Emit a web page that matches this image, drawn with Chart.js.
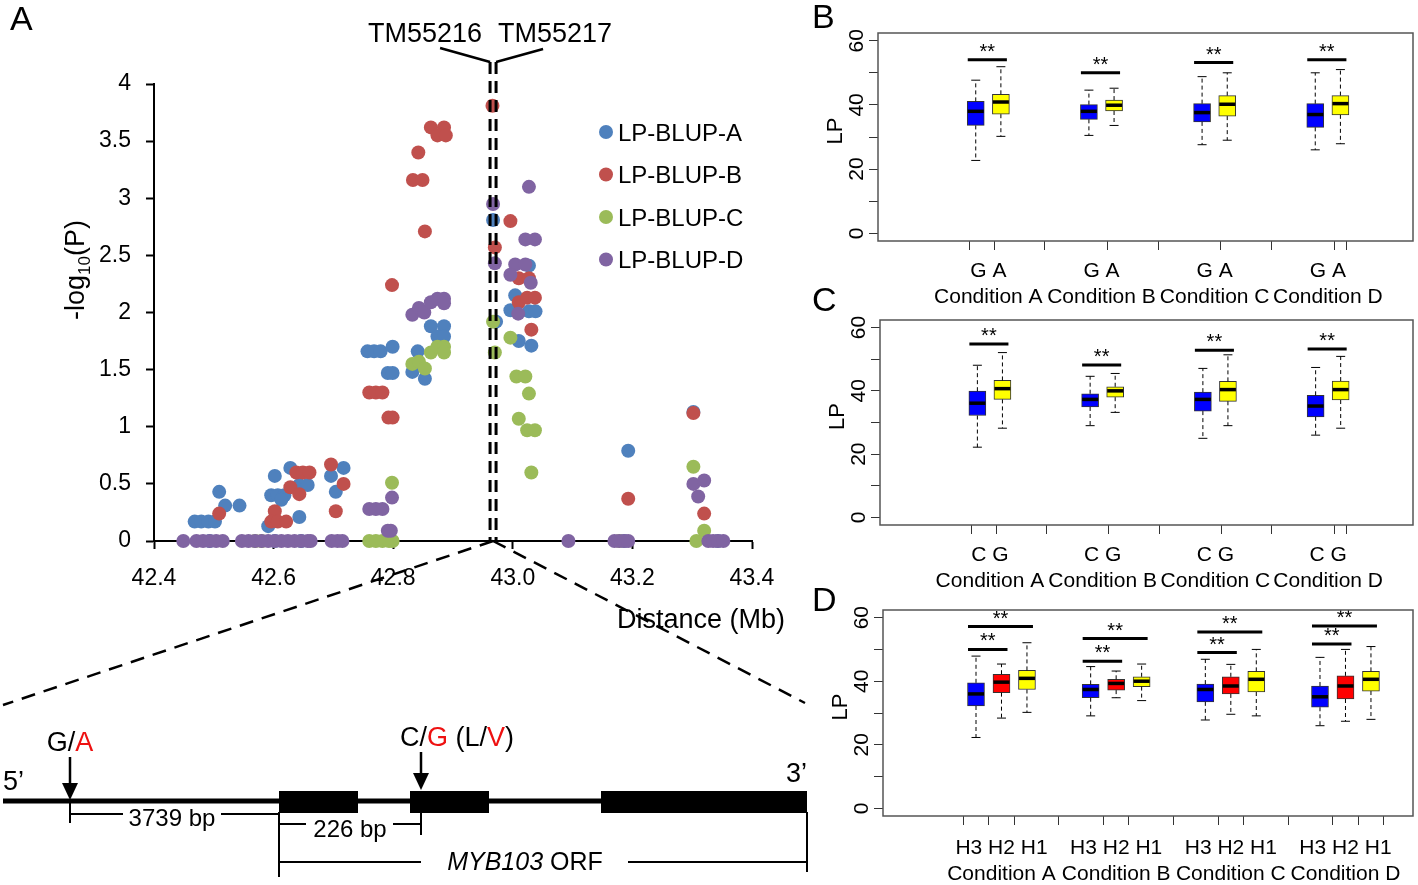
<!DOCTYPE html>
<html>
<head>
<meta charset="utf-8">
<title>MYB103 association and LP box plots</title>
<script src="https://cdn.jsdelivr.net/npm/chart.js@4.4.0/dist/chart.umd.min.js"></script>
<style>
  html, body { margin: 0; padding: 0; background: #fff; }
  #fig { position: relative; width: 1418px; height: 885px; overflow: hidden; }
  #fig canvas { position: absolute; }
  #overlay { position: absolute; left: 0; top: 0; pointer-events: none; }
</style>
</head>
<body>
<div id="fig">
  <canvas id="chart-a" width="820" height="720" style="left:0px;top:0px"></canvas>
  <canvas id="chart-b" width="618" height="320" style="left:800px;top:0px"></canvas>
  <canvas id="chart-c" width="618" height="320" style="left:800px;top:290px"></canvas>
  <canvas id="chart-d" width="618" height="315" style="left:800px;top:585px"></canvas>
  <svg id="overlay" width="1418" height="885"></svg>
</div>
<script>
'use strict';
/* ── panel A: association scan, [distance Mb, -log10(P)] ─────────────────── */
const LP_BLUP_A = [
  [42.468,0.17],[42.479,0.17],[42.491,0.17],[42.502,0.17],[42.509,0.43],[42.519,0.31],[42.543,0.31],
  [42.591,0.13],[42.596,0.40],[42.607,0.40],[42.618,0.40],[42.602,0.57],[42.613,0.36],[42.628,0.64],
  [42.643,0.21],[42.643,0.49],[42.657,0.49],[42.696,0.57],[42.704,0.43],[42.717,0.64],
  [42.757,1.66],[42.768,1.66],[42.779,1.66],[42.799,1.70],[42.791,1.47],[42.799,1.47],
  [42.832,1.48],[42.841,1.66],[42.853,1.42],[42.863,1.88],[42.885,1.88],[42.874,1.79],[42.885,1.79],
  [42.967,2.81],[42.972,1.92],[43.027,2.41],[43.004,2.15],[42.996,2.02],[43.027,2.01],[43.038,2.01],
  [43.010,1.75],[43.031,1.71],[43.193,0.79],[43.302,1.13],
  [42.493,0],[42.602,0],[42.646,0],[43.186,0],[43.343,0]
];
const LP_BLUP_B = [
  [42.509,0.24],[42.602,0.26],[42.596,0.17],[42.607,0.17],[42.621,0.17],[42.628,0.47],[42.643,0.41],
  [42.638,0.60],[42.649,0.60],[42.660,0.60],[42.696,0.67],[42.704,0.26],[42.717,0.50],
  [42.760,1.30],[42.771,1.30],[42.782,1.30],[42.792,1.08],[42.799,1.08],[42.798,2.24],
  [42.833,3.16],[42.849,3.16],[42.842,3.40],[42.853,2.71],[42.863,3.62],[42.885,3.62],[42.874,3.55],[42.888,3.55],
  [42.966,3.81],[42.970,2.57],[42.996,2.80],[43.010,2.30],[43.027,2.30],[43.010,2.09],[43.024,2.13],[43.037,2.13],
  [43.031,1.85],[43.193,0.37],[43.302,1.12],[43.320,0.24]
];
const LP_BLUP_C = [
  [42.760,0],[42.771,0],[42.782,0],[42.793,0],[42.799,0],[42.798,0.51],
  [42.832,1.55],[42.843,1.57],[42.853,1.51],[42.863,1.65],[42.874,1.70],[42.885,1.70],[42.885,1.65],
  [42.967,1.92],[42.970,1.65],[42.996,1.78],[43.006,1.44],[43.021,1.44],[43.027,1.29],[43.010,1.07],
  [43.024,0.97],[43.037,0.97],[43.031,0.60],[43.302,0.65],[43.320,0.09],[43.307,0],
  [42.569,0],[42.580,0],[43.178,0]
];
const LP_BLUP_D = [
  [42.449,0],[42.471,0],[42.482,0],[42.493,0],[42.504,0],[42.515,0],
  [42.547,0],[42.558,0],[42.569,0],[42.580,0],[42.591,0],[42.602,0],[42.613,0],[42.624,0],
  [42.635,0],[42.646,0],[42.657,0],[42.662,0],[42.697,0],[42.707,0],[42.715,0],
  [42.760,0.28],[42.771,0.28],[42.782,0.28],[42.798,0.38],[42.791,0.09],[42.796,0.09],
  [42.832,1.98],[42.843,2.04],[42.852,2.00],[42.863,2.09],[42.874,2.12],[42.885,2.12],[42.885,2.08],
  [42.967,2.95],[42.970,2.43],[43.027,3.10],[43.021,2.64],[43.037,2.64],[43.004,2.42],[43.021,2.42],
  [42.996,2.33],[43.030,2.26],[43.009,1.99],
  [43.093,0],[43.170,0],[43.178,0],[43.186,0],[43.193,0],
  [43.302,0.50],[43.320,0.53],[43.310,0.39],
  [43.327,0],[43.335,0],[43.343,0],[43.352,0]
];
const SERIES_NAMES  = ['LP-BLUP-A', 'LP-BLUP-B', 'LP-BLUP-C', 'LP-BLUP-D'];
const SERIES_POINTS = [LP_BLUP_A, LP_BLUP_B, LP_BLUP_C, LP_BLUP_D];
const SERIES_COLORS = ['#4F81BD', '#C0504D', '#9BBB59', '#8064A2'];
const X_TICKS = [42.4, 42.6, 42.8, 43.0, 43.2, 43.4];
const Y_TICKS = [0, 0.5, 1, 1.5, 2, 2.5, 3, 3.5, 4];
const LOCUS_MB = 42.967;
const MARKERS = ['TM55216', 'TM55217'];

/* ── panels B-D: LP box plots, [lower whisker, Q1, median, Q3, upper whisker] ── */
const CONDITIONS = ['Condition A', 'Condition B', 'Condition C', 'Condition D'];
const B_ALLELES = ['G', 'A'];
const B_STATS = [
  [22.7, 33.6, 38.0, 41.1, 47.7], [30.2, 37.1, 40.9, 43.3, 51.9],
  [30.5, 35.5, 38.0, 40.1, 44.6], [33.6, 38.1, 39.9, 41.5, 45.2],
  [27.6, 34.7, 37.6, 40.4, 48.8], [29.0, 36.5, 40.2, 42.9, 50.0],
  [26.0, 33.0, 37.0, 40.4, 50.0], [27.9, 36.9, 40.4, 42.9, 51.0]
];
const B_SIG_Y = [54.1, 50.0, 53.2, 54.1];

const C_ALLELES = ['C', 'G'];
const C_STATS = [
  [22.2, 32.2, 36.1, 39.9, 48.1], [28.2, 37.3, 40.7, 43.3, 52.1],
  [29.0, 34.9, 37.3, 39.1, 44.6], [33.2, 38.0, 40.0, 41.3, 45.5],
  [25.0, 33.6, 37.3, 39.6, 47.1], [29.0, 36.7, 40.4, 43.0, 51.4],
  [26.0, 31.8, 35.2, 38.6, 47.4], [28.2, 37.1, 40.4, 43.1, 50.9]
];
const C_SIG_Y = [54.8, 48.2, 52.8, 53.2];

const D_HAPLOTYPES = ['H3', 'H2', 'H1'];
const D_STATS = [
  [22.3, 32.2, 36.0, 39.5, 47.9], [28.4, 36.4, 39.7, 42.2, 45.4], [30.2, 37.4, 40.9, 43.4, 52.1],
  [29.1, 34.8, 37.4, 39.0, 44.6], [34.8, 37.2, 39.3, 40.6, 43.2], [33.9, 38.3, 40.0, 41.4, 45.4],
  [27.8, 33.5, 37.4, 39.1, 46.9], [29.6, 36.0, 38.5, 41.4, 45.3], [29.1, 36.6, 40.6, 43.1, 50.0],
  [26.0, 31.8, 35.1, 38.5, 47.5], [27.4, 34.4, 38.5, 41.7, 50.0], [28.0, 36.9, 40.6, 43.1, 50.9]
];
const D_SIG_H3_H2 = [50.0, 46.3, 49.0, 51.7];
const D_SIG_H3_H1 = [57.2, 53.4, 55.5, 57.4];

const BOX_TICKS = [0, 10, 20, 30, 40, 50, 60];
const BOX_LABELS = [0, 20, 40, 60];

const FONT = '"Liberation Sans", Arial, Helvetica, sans-serif';
Chart.defaults.font.family = FONT;
Chart.defaults.color = '#000';

/* ─── Panel A ─────────────────────────────────────────────────────────── */
const locusPlugin = {
  id: 'locus',
  afterDatasetsDraw(chart) {
    const { ctx, chartArea: a, scales: { x } } = chart;
    const px = x.getPixelForValue(LOCUS_MB);
    ctx.save();
    ctx.strokeStyle = '#000';
    // bracket under the marker names
    ctx.lineWidth = 2.5;
    ctx.beginPath();
    ctx.moveTo(px - 53, 48); ctx.lineTo(px - 3, 62);
    ctx.moveTo(px + 50, 49); ctx.lineTo(px + 3, 62);
    ctx.stroke();
    // double dashed locus line
    ctx.lineWidth = 3;
    ctx.setLineDash([12, 7]);
    [-3, 3].forEach(d => {
      ctx.beginPath(); ctx.moveTo(px + d, 62); ctx.lineTo(px + d, a.bottom); ctx.stroke();
    });
    // zoom-in lines to the gene model
    ctx.lineWidth = 2.5;
    ctx.setLineDash([14, 9]);
    ctx.beginPath();
    ctx.moveTo(px, a.bottom); ctx.lineTo(3, 705);
    ctx.moveTo(px, a.bottom); ctx.lineTo(805, 703);
    ctx.stroke();
    ctx.restore();
  }
};

const axisA = (extra) => Object.assign({
  type: 'linear',
  grid:   { drawOnChartArea: false, tickLength: 8, color: '#000', tickColor: '#000', tickWidth: 2 },
  border: { color: '#000', width: 2 },
}, extra);

new Chart(document.getElementById('chart-a'), {
  type: 'scatter',
  data: {
    datasets: SERIES_POINTS.map((pts, i) => ({
      label: SERIES_NAMES[i],
      data: pts.map(p => ({ x: p[0], y: p[1] })),
      backgroundColor: SERIES_COLORS[i],
      pointRadius: 7, pointHoverRadius: 7, pointBorderWidth: 0,
      order: SERIES_POINTS.length - i,
      clip: false,
    })),
  },
  options: {
    responsive: false, animation: false, events: [],
    layout: { padding: { top: 84, right: 68, bottom: 109, left: 0 } },
    plugins: { legend: { display: false }, tooltip: { enabled: false } },
    scales: {
      x: axisA({
        min: 42.4, max: 43.4,
        afterBuildTicks: s => { s.ticks = X_TICKS.map(v => ({ value: v })); },
        afterFit: s => { s.height = 70; },
        ticks: { callback: v => v.toFixed(1), font: { size: 23 }, padding: 16, maxRotation: 0, autoSkip: false },
      }),
      y: axisA({
        min: 0, max: 4,
        afterBuildTicks: s => { s.ticks = Y_TICKS.map(v => ({ value: v })); },
        afterFit: s => { s.width = 154; },
        ticks: { callback: v => String(v), font: { size: 23 }, padding: 15, autoSkip: false },
      }),
    },
  },
  plugins: [locusPlugin],
});

/* ─── Panels B-D ──────────────────────────────────────────────────────── */
function boxPlugin(stats, pos, sigs) {
  return {
    id: 'boxes',
    afterDatasetsDraw(chart) {
      const { ctx, chartArea: a, scales: { x, y } } = chart;
      ctx.save();
      ctx.strokeStyle = '#000';
      stats.forEach((s, i) => {
        const px = x.getPixelForValue(pos[i]);
        const [lo, q1, med, q3, hi] = s.map(v => y.getPixelForValue(v));
        ctx.lineWidth = 1;
        ctx.setLineDash([4, 3]);
        ctx.beginPath();
        ctx.moveTo(px, q3); ctx.lineTo(px, hi);
        ctx.moveTo(px, q1); ctx.lineTo(px, lo);
        ctx.stroke();
        ctx.setLineDash([]);
        ctx.beginPath();
        ctx.moveTo(px - 4.5, hi); ctx.lineTo(px + 4.5, hi);
        ctx.moveTo(px - 4.5, lo); ctx.lineTo(px + 4.5, lo);
        ctx.stroke();
        ctx.lineWidth = 3.5;
        ctx.beginPath(); ctx.moveTo(px - 8, med); ctx.lineTo(px + 8, med); ctx.stroke();
      });

      // significance bars
      ctx.lineWidth = 3;
      ctx.fillStyle = '#000';
      ctx.font = '20px ' + FONT;
      ctx.textAlign = 'center';
      ctx.textBaseline = 'alphabetic';
      sigs.forEach(sg => {
        const x0 = x.getPixelForValue(pos[sg.from]) - 8;
        const x1 = x.getPixelForValue(pos[sg.to]) + 6;
        const yy = y.getPixelForValue(sg.y);
        ctx.beginPath(); ctx.moveTo(x0, yy); ctx.lineTo(x1, yy); ctx.stroke();
        ctx.fillText('**', (x0 + x1) / 2, yy - 2);
      });

      // frame
      ctx.lineWidth = 1.5;
      ctx.strokeStyle = '#555';
      ctx.strokeRect(a.left, a.top, a.width, a.height);

      // R-style y labels, parallel to the axis
      ctx.textBaseline = 'middle';
      ctx.font = '21px ' + FONT;
      BOX_LABELS.forEach(v => {
        ctx.save();
        ctx.translate(a.left - 21, y.getPixelForValue(v));
        ctx.rotate(-Math.PI / 2);
        ctx.fillText(String(v), 0, 0);
        ctx.restore();
      });
      ctx.font = '22px ' + FONT;
      ctx.save();
      ctx.translate(a.left - 42, (y.getPixelForValue(0) + y.getPixelForValue(60)) / 2 - 6);
      ctx.rotate(-Math.PI / 2);
      ctx.fillText('LP', 0, 0);
      ctx.restore();
      ctx.restore();
    }
  };
}

function boxChart(id, stats, genotypes, sigs, colors, lay) {
  const n = genotypes.length;
  const pos = stats.map((_, i) => 1 + Math.floor(i / n) * 4.5 + (i % n));
  const ticks = pos.map(p => ({ value: p, text: '' }));
  CONDITIONS.forEach((c, g) => {
    ticks.push({ value: 1 + g * 4.5 + (n - 1) / 2, text: [genotypes.join(' '), c], center: true });
  });
  ticks.sort((a, b) => a.value - b.value);

  return new Chart(document.getElementById(id), {
    type: 'bar',
    data: {
      datasets: [{
        data: stats.map((s, i) => ({ x: pos[i], y: [s[1], s[3]] })),
        backgroundColor: stats.map((_, i) => colors[i % n]),
        borderColor: '#333', borderWidth: 1, borderSkipped: false,
        barThickness: 17,
      }],
    },
    options: {
      responsive: false, animation: false, events: [],
      layout: { padding: lay.padding },
      plugins: { legend: { display: false }, tooltip: { enabled: false } },
      scales: {
        x: {
          type: 'linear', min: -2, max: 17.5,
          afterBuildTicks: s => { s.ticks = ticks.map(t => Object.assign({}, t)); },
          afterFit: s => { s.height = lay.xHeight; },
          ticks: {
            callback: (v, i, tk) => tk[i].text,
            font: { size: 21, lineHeight: 1.24 }, padding: lay.labelPad,
            maxRotation: 0, autoSkip: false,
          },
          grid: {
            drawOnChartArea: false, tickLength: 9, tickWidth: 1,
            tickColor: c => (c.tick && c.tick.center) ? 'rgba(0,0,0,0)' : '#333',
          },
          border: { display: false },
        },
        y: {
          min: -2.4, max: 62.4,
          afterBuildTicks: s => { s.ticks = BOX_TICKS.map(v => ({ value: v })); },
          afterFit: s => { s.width = lay.yWidth; },
          ticks: { callback: () => '', padding: 0 },
          grid: { drawOnChartArea: false, tickLength: 9, tickWidth: 1, tickColor: '#333' },
          border: { display: false },
        },
      },
    },
    plugins: [boxPlugin(stats, pos, sigs)],
  });
}

const pairSigs = (ys, from, to, n) => ys.map((v, g) => ({ from: g * n + from, to: g * n + to, y: v }));

boxChart('chart-b', B_STATS, B_ALLELES, pairSigs(B_SIG_Y, 0, 1, 2), ['#0000FF', '#FFFF00'],
  { padding: { top: 33, right: 5, bottom: 4, left: 0 }, xHeight: 75, yWidth: 78, labelPad: 8 });
boxChart('chart-c', C_STATS, C_ALLELES, pairSigs(C_SIG_Y, 0, 1, 2), ['#0000FF', '#FFFF00'],
  { padding: { top: 30, right: 5, bottom: 10, left: 0 }, xHeight: 75, yWidth: 80, labelPad: 8 });
boxChart('chart-d', D_STATS, D_HAPLOTYPES,
  pairSigs(D_SIG_H3_H2, 0, 1, 3).concat(pairSigs(D_SIG_H3_H1, 0, 2, 3)),
  ['#0000FF', '#FF0000', '#FFFF00'],
  { padding: { top: 25, right: 5, bottom: 4, left: 0 }, xHeight: 80, yWidth: 83, labelPad: 10 });

/* ─── Overlay: labels, legend, gene model ─────────────────────────────── */
const RED = '#EE1111';
let svg = `<g font-family='${FONT}' fill="#000">`;
// panel letters
[['A', 10, 30], ['B', 812, 28], ['C', 812, 311], ['D', 812, 611]].forEach(([l, x, y]) => {
  svg += `<text x="${x}" y="${y}" font-size="34">${l}</text>`;
});
// marker names
svg += `<text x="368" y="42" font-size="27">${MARKERS[0]}</text>`;
svg += `<text x="498" y="42" font-size="27">${MARKERS[1]}</text>`;
// legend
SERIES_NAMES.forEach((name, i) => {
  const cy = 132 + i * 42.5;
  svg += `<circle cx="606" cy="${cy}" r="7" fill="${SERIES_COLORS[i]}"/>`;
  svg += `<text x="618" y="${cy + 8.5}" font-size="24">${name}</text>`;
});
// axis titles
svg += `<text transform="translate(84,270) rotate(-90)" text-anchor="middle" font-size="27">-log<tspan font-size="17" dy="6">10</tspan><tspan dy="-6">(P)</tspan></text>`;
svg += `<text x="617" y="628" font-size="27">Distance (Mb)</text>`;

// gene model
svg += `<g stroke="#000" stroke-width="2">`;
svg += `<line x1="3" y1="801" x2="807" y2="801" stroke-width="5"/>`;
svg += `<line x1="70" y1="801" x2="70" y2="823"/><line x1="70" y1="814" x2="123" y2="814"/><line x1="221" y1="814" x2="279" y2="814"/>`;
svg += `<line x1="279" y1="812" x2="279" y2="877"/>`;
svg += `<line x1="279" y1="824" x2="306" y2="824"/><line x1="393" y1="824" x2="421" y2="824"/><line x1="421" y1="812" x2="421" y2="835"/>`;
svg += `<line x1="279" y1="862" x2="421" y2="862"/><line x1="628" y1="862" x2="807" y2="862"/><line x1="807" y1="812" x2="807" y2="872"/>`;
svg += `<line x1="70" y1="757" x2="70" y2="786" stroke-width="2.5"/><line x1="421" y1="752" x2="421" y2="776" stroke-width="2.5"/>`;
svg += `</g>`;
svg += `<rect x="279" y="791" width="79" height="22"/><rect x="410" y="791" width="79" height="22"/><rect x="601" y="791" width="206" height="22"/>`;
svg += `<polygon points="62,783 78,783 70,800"/><polygon points="413,773 429,773 421,790"/>`;
svg += `<text x="3" y="790" font-size="27">5’</text>`;
svg += `<text x="807" y="782" font-size="27" text-anchor="end">3’</text>`;
svg += `<text x="70" y="751" font-size="27" text-anchor="middle">G/<tspan fill="${RED}">A</tspan></text>`;
svg += `<text x="400" y="746" font-size="27">C/<tspan fill="${RED}">G</tspan> (L/<tspan fill="${RED}">V</tspan>)</text>`;
svg += `<text x="172" y="826" font-size="24" text-anchor="middle">3739 bp</text>`;
svg += `<text x="350" y="837" font-size="24" text-anchor="middle">226 bp</text>`;
svg += `<text x="525" y="870" font-size="25" text-anchor="middle"><tspan font-style="italic">MYB103</tspan> ORF</text>`;
svg += `</g>`;
document.getElementById('overlay').innerHTML = svg;
</script>
</body>
</html>
